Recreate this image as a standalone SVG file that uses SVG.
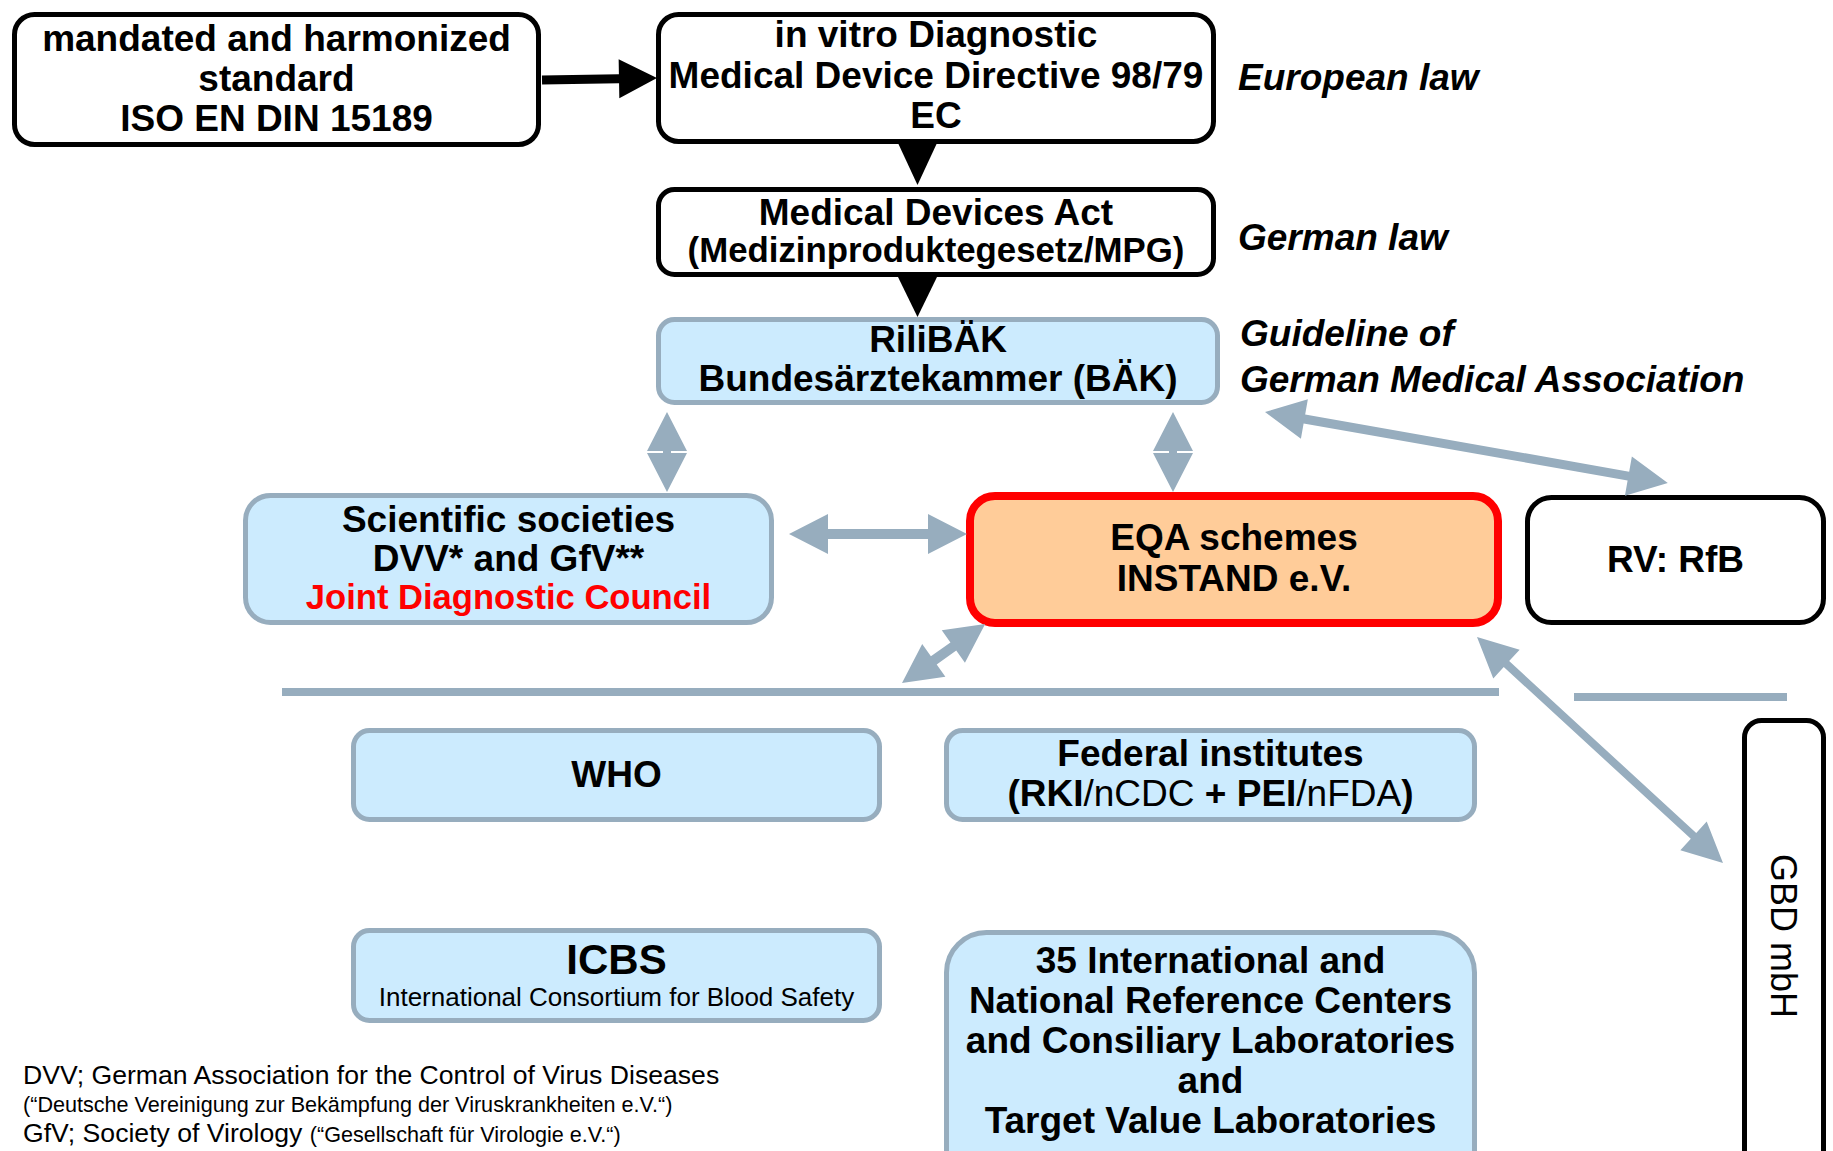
<svg xmlns="http://www.w3.org/2000/svg" width="1833" height="1151" viewBox="0 0 1833 1151">
<style>
text{font-family:"Liberation Sans",Arial,sans-serif;fill:#000}
.t{font-size:37px;font-weight:bold;text-anchor:middle}
.lab{font-size:37px;font-weight:bold;font-style:italic}
.bk{fill:#fff;stroke:#000;stroke-width:5}
.bl{fill:#CCEBFE;stroke:#97ADBE;stroke-width:5}
.ga{fill:#97ADBE}
.fn{font-size:26.6px}
.fs{font-size:21.6px}
.r{font-weight:normal}
</style>
<rect width="1833" height="1151" fill="#fff"/>

<g id="n-iso">
<rect class="bk" x="14.5" y="14.5" width="524" height="130" rx="20"/>
<text class="t" x="276.5" y="51">mandated and harmonized</text>
<text class="t" x="276.5" y="91">standard</text>
<text class="t" x="276.5" y="131">ISO EN DIN 15189</text>
</g>

<g id="n-ivd">
<rect class="bk" x="658.5" y="14.5" width="555" height="127" rx="20"/>
<text class="t" x="936" y="47">in vitro Diagnostic</text>
<text class="t" x="936" y="88">Medical Device Directive 98/79</text>
<text class="t" x="936" y="128">EC</text>
</g>
<text class="lab" x="1238" y="90">European law</text>

<g id="n-mpg">
<rect class="bk" x="658.5" y="189.5" width="555" height="85" rx="16"/>
<text class="t" x="936" y="225">Medical Devices Act</text>
<text class="t" x="936" y="262" style="font-size:34.8px">(Medizinproduktegesetz/MPG)</text>
</g>
<text class="lab" x="1238" y="250">German law</text>

<g id="n-rili">
<rect class="bl" x="658.5" y="319.5" width="559" height="83" rx="16"/>
<text class="t" x="938" y="352">RiliBÄK</text>
<text class="t" x="938" y="391">Bundesärztekammer (BÄK)</text>
</g>
<text class="lab" x="1240" y="346">Guideline of</text>
<text class="lab" x="1240" y="392">German Medical Association</text>

<g id="n-sci">
<rect class="bl" x="245.5" y="495.5" width="526" height="127" rx="25"/>
<text class="t" x="508.5" y="532">Scientific societies</text>
<text class="t" x="508.5" y="571">DVV* and GfV**</text>
<text class="t" x="508.5" y="609" style="fill:#FF0000;font-size:34.6px">Joint Diagnostic Council</text>
</g>

<g id="n-eqa">
<rect x="970" y="496" width="528" height="127" rx="25" fill="#FFCC99" stroke="#FF0000" stroke-width="8"/>
<text class="t" x="1234" y="550">EQA schemes</text>
<text class="t" x="1234" y="591">INSTAND e.V.</text>
</g>

<g id="n-rfb">
<rect class="bk" x="1527.5" y="497.5" width="296" height="125" rx="24"/>
<text class="t" x="1675.5" y="572">RV: RfB</text>
</g>

<g id="n-who">
<rect class="bl" x="353.5" y="730.5" width="526" height="89" rx="16"/>
<text class="t" x="616.5" y="787">WHO</text>
</g>

<g id="n-fed">
<rect class="bl" x="946.5" y="730.5" width="528" height="89" rx="16"/>
<text class="t" x="1210.5" y="766">Federal institutes</text>
<text class="t" x="1210.5" y="806">(RKI<tspan class="r">/nCDC</tspan> + PEI<tspan class="r">/nFDA</tspan>)</text>
</g>

<g id="n-icbs">
<rect class="bl" x="353.5" y="930.5" width="526" height="90" rx="16"/>
<text class="t" x="616.5" y="974" style="font-size:42px">ICBS</text>
<text x="616.5" y="1006" style="font-size:26px;text-anchor:middle">International Consortium for Blood Safety</text>
</g>

<g id="n-ref">
<rect class="bl" x="946.5" y="932.5" width="528" height="270" rx="40"/>
<text class="t" x="1210.5" y="973">35 International and</text>
<text class="t" x="1210.5" y="1013">National Reference Centers</text>
<text class="t" x="1210.5" y="1053">and Consiliary Laboratories</text>
<text class="t" x="1210.5" y="1093">and</text>
<text class="t" x="1210.5" y="1133">Target Value Laboratories</text>
</g>

<g id="n-gbd">
<rect class="bk" x="1744.5" y="720.5" width="79" height="470" rx="17"/>
<text x="1771" y="936" transform="rotate(90 1771 936)" style="font-size:36px;text-anchor:middle">GBD mbH</text>
</g>

<g id="footnotes">
<text class="fn" x="23" y="1084">DVV; German Association for the Control of Virus Diseases</text>
<text class="fs" x="23" y="1112">(“Deutsche Vereinigung zur Bekämpfung der Viruskrankheiten e.V.“)</text>
<text class="fn" x="23" y="1142">GfV; Society of Virology <tspan class="fs">(“Gesellschaft für Virologie e.V.“)</tspan></text>
</g>

<g id="connectors">
<polygon fill="#000" transform="translate(542,80) rotate(-1)" points="0,-4.5 77,-4.5 77,-19.5 115,0 77,19.5 77,4.5 0,4.5"/>
<polygon fill="#000" points="898,143 937,143 917.5,185"/>
<polygon fill="#000" points="898,277 937,277 917.5,317"/>
<polygon class="ga" transform="translate(667,412) rotate(90)" points="0,0 39,-20 39,-4 41,-4 41,-20 80,0 41,20 41,4 39,4 39,20"/>
<polygon class="ga" transform="translate(1173,412) rotate(90)" points="0,0 39,-20 39,-4 41,-4 41,-20 80,0 41,20 41,4 39,4 39,20"/>
<polygon class="ga" transform="translate(789,534)" points="0,0 39,-20 39,-5 139,-5 139,-20 178,0 139,20 139,5 39,5 39,20"/>
<polygon class="ga" transform="translate(902,683) rotate(-35.4)" points="0,0 39,-20 39,-5 63,-5 63,-20 102,0 63,20 63,5 39,5 39,20"/>
<polygon class="ga" transform="translate(1265,412) rotate(10)" points="0,0 40,-20 40,-4.5 369,-4.5 369,-20 409,0 369,20 369,4.5 40,4.5 40,20"/>
<polygon class="ga" transform="translate(1477,637) rotate(42.57)" points="0,0 40,-19.5 40,-4 294,-4 294,-19.5 334,0 294,19.5 294,4 40,4 40,19.5"/>
<rect class="ga" x="282" y="688" width="1217" height="8"/>
<rect class="ga" x="1574" y="693" width="213" height="8"/>
</g>
</svg>
